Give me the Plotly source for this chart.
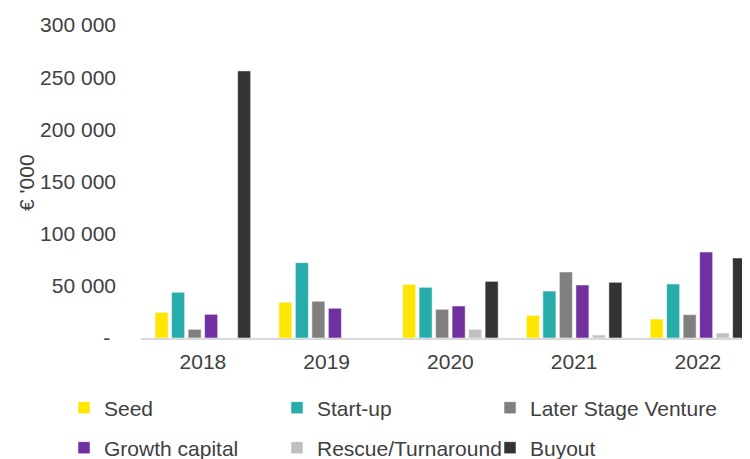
import plotly.graph_objects as go

years = ["2018", "2019", "2020", "2021", "2022"]
seed = [24600, 34200, 51400, 21700, 18200]
startup = [43800, 72200, 48600, 45000, 51800]
later = [8300, 35200, 27500, 63300, 22400]
growth = [22700, 28500, 30700, 50800, 82400]
rescue = [0, 0, 8300, 2900, 4800]
buyout = [256000, 0, 54300, 53400, 76700]

series = [
    ("Seed", seed, "#FFE600", "legend"),
    ("Start-up", startup, "#27ACAA", "legend"),
    ("Later Stage Venture", later, "#808080", "legend"),
    ("Growth capital", growth, "#7030A0", "legend2"),
    ("Rescue/Turnaround", rescue, "#C0C0C0", "legend2"),
    ("Buyout", buyout, "#333333", "legend2"),
]

tick_vals = [0, 50000, 100000, 150000, 200000, 250000, 300000]
tick_text = ["-\u00a0", "50 000", "100 000", "150 000", "200 000", "250 000", "300 000"]

L, T, PW, PH = 133, 17, 609, 313
B = 459 - T - PH
R = 750 - L - PW

fig = go.Figure()
for i, (name, vals, col, lg) in enumerate(series):
    fig.add_trace(go.Bar(x=years, y=vals, name=name, legend=lg,
                         legendwidth=210 if i % 3 == 2 else None,
                         marker=dict(color=col, line=dict(color="rgba(255,255,255,0.5)", width=1))))

font = "Liberation Sans, Arial, sans-serif"
txt = "#404040"
legend_common = dict(orientation="h", x=(56 - L) / PW, xanchor="left", yanchor="middle",
                     entrywidth=168, entrywidthmode="pixels",
                     font=dict(family=font, size=21, color=txt),
                     bgcolor="rgba(0,0,0,0)")
fig.update_layout(
    width=750, height=459,
    margin=dict(l=L, r=R, t=T, b=B, autoexpand=False),
    plot_bgcolor="white", paper_bgcolor="white",
    barmode="group", bargap=0.20, bargroupgap=0.21,
    font=dict(family=font, size=21, color=txt),
    xaxis=dict(showline=True, linecolor="#d9d9d9", linewidth=1.5, ticks="",
               range=[-0.5, 4.421], automargin=False, ticklabelstandoff=4,
               tickfont=dict(size=21, color=txt)),
    yaxis=dict(range=[0, 300000], tickvals=tick_vals, ticktext=tick_text,
               showgrid=False, zeroline=False, showline=False, automargin=False,
               ticks="", ticklabelstandoff=24, tickfont=dict(size=21, color=txt)),
    legend=dict(y=(PH - (400 - T)) / PH, **legend_common),
    legend2=dict(y=(PH - (440 - T)) / PH, **legend_common),
    annotations=[dict(text="€ '000", xref="paper", yref="paper",
                      x=(18 - L) / PW, y=(PH - (175 - T)) / PH, textangle=-90,
                      showarrow=False, font=dict(size=21, color=txt),
                      xanchor="center", yanchor="middle")],
    showlegend=True,
)
fig.write_html("out.html")
